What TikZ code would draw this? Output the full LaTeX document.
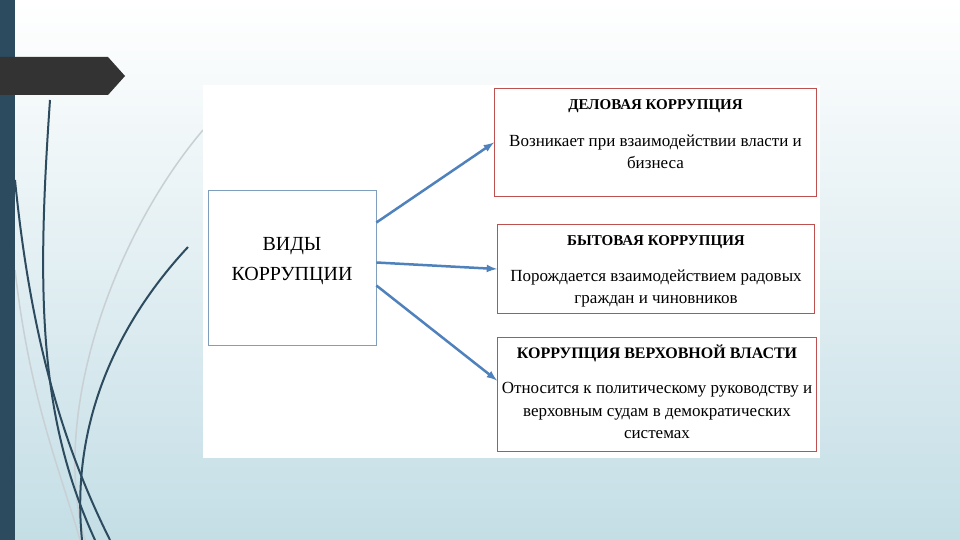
\documentclass[tikz,border=0pt]{standalone}
\usepackage{fontspec}
\setmainfont{Liberation Serif}
\usepackage{tikz}
\usetikzlibrary{positioning}
\definecolor{bgblue}{RGB}{196,222,230}
\definecolor{barblue}{RGB}{45,75,95}
\definecolor{tabgray}{RGB}{51,51,51}
\definecolor{linkblue}{RGB}{79,129,189}
\definecolor{boxred}{RGB}{190,80,80}
\definecolor{leftedge}{RGB}{127,159,191}
\definecolor{stemgray}{RGB}{200,208,212}
\begin{document}
\begin{tikzpicture}[x=1pt, y=-1pt, >=latex]
	\tikzstyle{kindnode}=[
	draw=boxred,
	line width=1pt,
	rectangle,
	anchor=north west
	]
	\tikzstyle{headnode}=[
	font=\fontsize{15}{17}\selectfont\bfseries,
	inner sep=0pt
	]
	\tikzstyle{textnode}=[
	font=\fontsize{17}{22.5}\selectfont,
	align=center,
	inner sep=0pt
	]
	\tikzstyle{link}=[
	draw=linkblue,
	line width=2.5pt,
	->
	]
	\tikzstyle{stem}=[
	draw=barblue,
	line width=2pt
	]
	\useasboundingbox (0,0) rectangle (960,540);
	\shade[top color=white, bottom color=bgblue] (0,0) rectangle (960,540);
	% decorative stems
	\draw[stemgray, line width=1.5pt] (203,130) .. controls (110,240) and (50,420) .. (85,540);
	\draw[stemgray, line width=1.5pt] (15,270) .. controls (30,400) and (60,470) .. (80,540);
	\draw[stem] (50,100) .. controls (36,300) and (40,420) .. (95,540);
	\draw[stem] (15,180) .. controls (30,330) and (60,440) .. (110,540);
	\draw[stem] (188,247) .. controls (120,320) and (70,420) .. (82,540);
	\fill[barblue] (0,0) rectangle (15,540);
	\fill[tabgray] (0,57) -- (108,57) -- (125,76) -- (108,95) -- (0,95) -- cycle;
	% panel
	\fill[white] (203,85) rectangle (820,458);
	%
	\node[draw=leftedge, line width=0.8pt, minimum width=168, minimum height=155] (VIDY) at (292,267.5) {};
	\node[font=\fontsize{20}{30}\selectfont, align=center, inner sep=0pt] (VIDYtext) at (292,261) {ВИДЫ\\КОРРУПЦИИ};
	%
	\node[kindnode, minimum width=322, minimum height=108] (BUS) at (494,88) {};
	\node[headnode, below=11pt of BUS.north] (BUShead) {ДЕЛОВАЯ КОРРУПЦИЯ};
	\node[textnode, below=22pt of BUShead] (BUStext) {Возникает при взаимодействии власти и\\бизнеса};
	%
	\node[kindnode, minimum width=317, minimum height=89] (DOM) at (497,224) {};
	\node[headnode, below=11pt of DOM.north] (DOMhead) {БЫТОВАЯ КОРРУПЦИЯ};
	\node[textnode, below=21pt of DOMhead] (DOMtext) {Порождается взаимодействием радовых\\граждан и чиновников};
	%
	\node[kindnode, minimum width=319, minimum height=114] (TOP) at (497,337) {};
	\node[headnode, font=\fontsize{16}{18}\selectfont\bfseries, below=8pt of TOP.north] (TOPhead) {КОРРУПЦИЯ ВЕРХОВНОЙ ВЛАСТИ};
	\node[textnode, below=20pt of TOPhead] (TOPtext) {Относится к политическому руководству и\\верховным судам в демократических\\системах};
	%
	\draw[link] ([yshift=45pt]VIDY.east) -- (BUS.west);
	\draw[link] ([yshift=5pt]VIDY.east) -- (DOM.west);
	\draw[link] ([yshift=-18pt]VIDY.east) -- ([yshift=14pt]TOP.west);
\end{tikzpicture}
\end{document}
